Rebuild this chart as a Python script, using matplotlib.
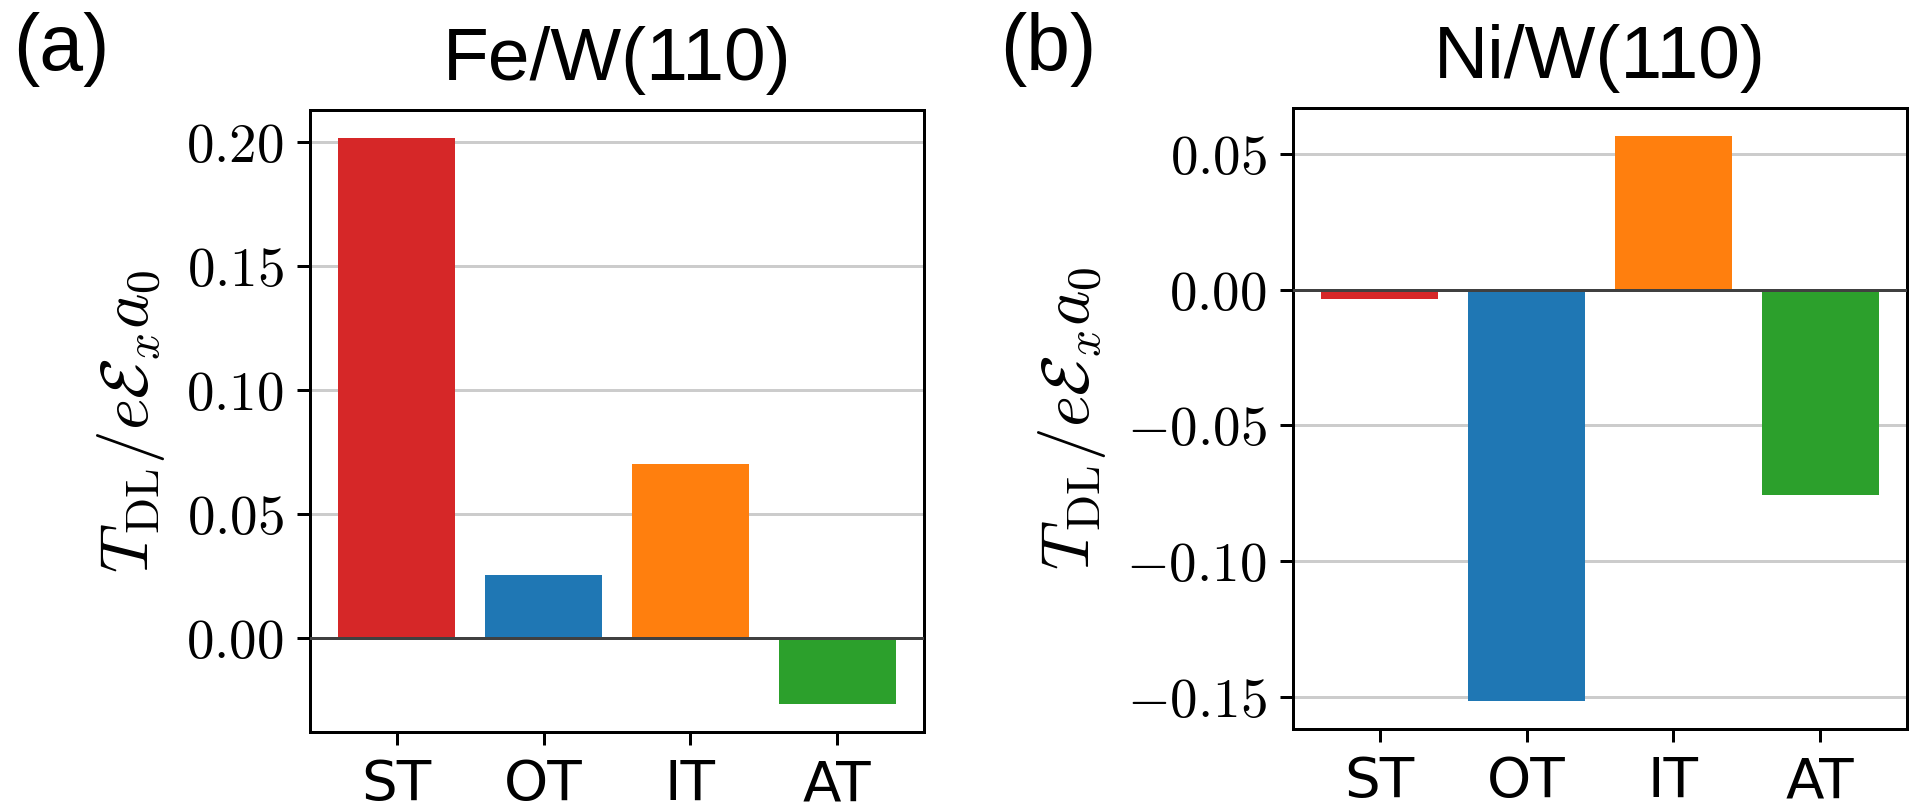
import matplotlib
matplotlib.use("Agg")
import matplotlib.pyplot as plt
from matplotlib.ticker import FuncFormatter, MultipleLocator

plt.rcParams['mathtext.fontset'] = 'cm'
plt.rcParams['font.family'] = ['Liberation Sans', 'DejaVu Sans']

categories = ["ST", "OT", "IT", "AT"]
fe_values = [0.2014, 0.0255, 0.0700, -0.0265]
ni_values = [-0.0036, -0.1515, 0.0565, -0.0757]
bar_colors = ["#d62728", "#1f77b4", "#ff7f0e", "#2ca02c"]
titles = ["Fe/W(110)", "Ni/W(110)"]
panel_labels = ["(a)", "(b)"]
ylabel = r"$T_{\rm DL}/e\mathcal{E}_x a_0$"

fig = plt.figure(figsize=(1920 / 270, 812 / 270), dpi=270)
ax_a = fig.add_axes([310 / 1920, 1 - 732 / 812, 614 / 1920, 622 / 812])
ax_b = fig.add_axes([1293 / 1920, 1 - 729 / 812, 614 / 1920, 621 / 812])

fmt = FuncFormatter(lambda v, p: r"$%.2f$" % v)

for ax, vals, title, lab, lx in [(ax_a, fe_values, titles[0], panel_labels[0], 13),
                                 (ax_b, ni_values, titles[1], panel_labels[1], 1000)]:
    ax.set_axisbelow(True)
    ax.yaxis.grid(True, color="0.8", lw=0.8)
    ax.bar(categories, vals, color=bar_colors, width=0.8)
    ax.axhline(0, color="0.25", lw=0.8, zorder=3)
    ax.yaxis.set_major_locator(MultipleLocator(0.05))
    ax.yaxis.set_major_formatter(fmt)
    ax.tick_params(axis="y", labelsize=14.7)
    ax.tick_params(axis="x", labelsize=15)
    for t in ax.get_xticklabels():
        t.set_fontfamily("DejaVu Sans")
    ax.set_ylabel(ylabel, fontsize=18, labelpad=5)
    ax.set_title(title, fontsize=20, pad=8)
    fig.text(lx / 1920, 1 - 70 / 812, lab, fontsize=21, va="baseline", ha="left")

fig.savefig("out.png", dpi=270)
